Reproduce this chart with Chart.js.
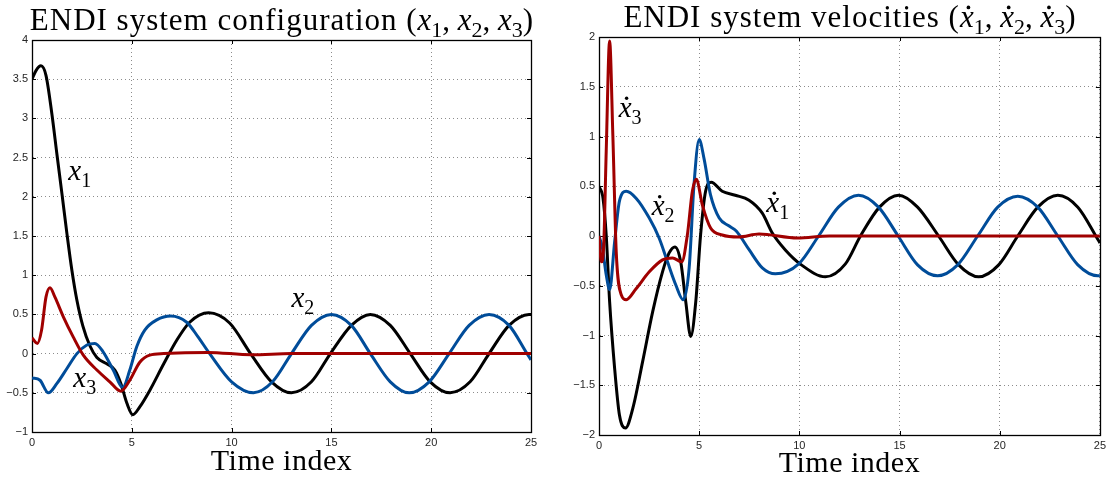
<!DOCTYPE html>
<html>
<head>
<meta charset="utf-8">
<script src="https://cdn.jsdelivr.net/npm/chart.js@4"></script>
<style>
  html, body { margin: 0; padding: 0; background: #fff; }
  #wrap { position: relative; width: 1110px; height: 481px; }
  .pane { position: absolute; top: 0; height: 481px; }
</style>
</head>
<body>
<div id="wrap">
  <div class="pane" style="left:0;width:560px"><canvas id="cfg" width="560" height="481"></canvas></div>
  <div class="pane" style="left:560px;width:550px"><canvas id="vel" width="550" height="481"></canvas></div>
</div>
<script>
// ticks
const xTicks = [0, 5, 10, 15, 20, 25];
const yTicksCfg = [-1, -0.5, 0, 0.5, 1, 1.5, 2, 2.5, 3, 3.5, 4];
const yTicksVel = [-2, -1.5, -1, -0.5, 0, 0.5, 1, 1.5, 2];

// configuration x1, x2, x3
const x1T = [0, 0.2, 0.45, 0.7, 1.0, 1.25, 1.5, 1.75, 2.0, 2.25, 2.55, 2.9, 3.25, 3.75, 4.15, 4.45, 4.75, 5.05, 5.4, 5.9, 6.6, 7.25, 7.9, 8.85, 9.9, 10.95, 12.0, 13.0, 14.0, 14.95, 16.0, 16.95, 17.95, 18.95, 19.95, 20.95, 21.95, 22.9, 23.9, 24.9, 25];
const x1V = [3.5, 3.61, 3.67, 3.55, 3.05, 2.54, 2.04, 1.53, 1.06, 0.68, 0.35, 0.1, -0.05, -0.13, -0.21, -0.38, -0.63, -0.78, -0.68, -0.47, -0.13, 0.17, 0.4, 0.52, 0.39, 0, -0.36, -0.5, -0.36, 0, 0.36, 0.5, 0.36, 0, -0.36, -0.5, -0.36, 0, 0.36, 0.5, 0.5];
const x2T = [0, 0.4, 0.82, 1.25, 1.75, 2.25, 2.75, 3.15, 3.57, 4.07, 4.55, 4.9, 5.25, 5.65, 6.25, 6.95, 7.75, 8.3, 8.9, 10.0, 11.1, 12.05, 13.0, 14.0, 15.0, 16.0, 16.95, 17.95, 18.9, 19.9, 20.9, 21.9, 22.9, 23.9, 24.8, 25];
const x2V = [-0.31, -0.34, -0.5, -0.38, -0.19, 0, 0.11, 0.13, 0.02, -0.21, -0.43, -0.21, 0.09, 0.3, 0.43, 0.48, 0.4, 0.22, 0, -0.36, -0.5, -0.36, 0, 0.36, 0.5, 0.36, 0, -0.36, -0.5, -0.36, 0, 0.36, 0.5, 0.36, 0, -0.08];
const x3T = [0, 0.27, 0.48, 0.7, 0.9, 1.15, 1.57, 2.07, 2.57, 3.25, 3.9, 4.45, 4.9, 5.4, 5.9, 6.6, 8.8, 11.0, 13.0, 25];
const x3V = [0.2, 0.13, 0.3, 0.72, 0.84, 0.72, 0.47, 0.21, -0.02, -0.21, -0.36, -0.48, -0.34, -0.11, -0.02, 0, 0.015, -0.015, 0, 0];

// velocities
const v1T = [0, 0.2, 0.36, 0.53, 0.78, 1.02, 1.32, 1.69, 2.18, 2.68, 3.17, 3.5, 3.79, 4.08, 4.33, 4.58, 4.83, 5.07, 5.32, 5.6, 6.15, 6.8, 7.49, 8.15, 8.65, 9.3, 10.1, 11.3, 12.3, 13.05, 14.0, 14.95, 15.9, 16.95, 17.95, 18.95, 19.95, 20.9, 21.9, 22.9, 23.9, 24.8, 25];
const v1V = [0.5, 0.38, 0.01, -0.66, -1.33, -1.8, -1.93, -1.73, -1.26, -0.76, -0.36, -0.17, -0.11, -0.26, -0.66, -1.01, -0.66, 0.01, 0.45, 0.54, 0.45, 0.41, 0.36, 0.23, 0.03, -0.14, -0.29, -0.41, -0.28, 0, 0.29, 0.41, 0.29, 0, -0.29, -0.41, -0.29, 0, 0.29, 0.41, 0.29, 0, -0.07];
const v2T = [0, 0.17, 0.36, 0.53, 0.78, 1.02, 1.36, 1.85, 2.51, 3.0, 3.42, 3.83, 4.2, 4.5, 4.74, 5.0, 5.24, 5.57, 6.0, 6.5, 6.85, 7.5, 8.15, 8.8, 9.97, 10.96, 11.95, 12.95, 13.95, 14.93, 15.9, 16.9, 17.9, 18.9, 19.9, 20.9, 21.9, 22.9, 23.9, 24.9, 25];
const v2V = [0, -0.12, -0.39, -0.54, -0.06, 0.35, 0.45, 0.38, 0.18, -0.02, -0.26, -0.49, -0.64, -0.32, 0.51, 0.97, 0.78, 0.41, 0.18, 0.1, 0.05, -0.14, -0.32, -0.38, -0.28, 0, 0.29, 0.41, 0.29, 0, -0.29, -0.4, -0.29, 0, 0.29, 0.4, 0.29, 0, -0.29, -0.4, -0.4];
const v3T = [0, 0.12, 0.23, 0.36, 0.53, 0.69, 0.86, 1.11, 1.36, 1.85, 2.51, 3.17, 3.67, 4.13, 4.41, 4.66, 4.86, 5.16, 5.57, 6.15, 6.98, 7.99, 9.9, 11.5, 25];
const v3V = [0, -0.26, -0.12, 0.85, 1.96, 1.02, -0.16, -0.59, -0.64, -0.53, -0.36, -0.24, -0.22, -0.26, 0.01, 0.45, 0.57, 0.31, 0.08, 0.01, -0.01, 0.02, -0.02, 0, 0];

const BLACK = '#000000', BLUE = '#004c99', RED = '#a00000';
const SERIF = '"Liberation Serif", "DejaVu Serif", serif';
const SANS = '"Liberation Sans", Arial, sans-serif';

const fmt = (v) => String(v).replace('-', '\u2212');

// rich text: italic x with subscript (and optional dot)
function mathVar(sub, size, dot) {
  return [
    { s: 'x', font: `italic ${size}px ${SERIF}`, dot, size },
    { s: sub, font: `${Math.round(size * 0.7)}px ${SERIF}`, dy: Math.round(size * 0.23) },
  ];
}
function plain(s, size, ls) {
  return { s, font: `${size}px ${SERIF}`, ls };
}
function drawRich(ctx, runs, x, y, align) {
  let w = 0;
  runs.forEach((r) => {
    ctx.font = r.font;
    ctx.letterSpacing = r.ls || '0px';
    r.w = ctx.measureText(r.s).width;
    w += r.w;
  });
  let cx = align === 'center' ? x - w / 2 : x;
  ctx.fillStyle = '#000';
  ctx.textBaseline = 'alphabetic';
  ctx.textAlign = 'left';
  runs.forEach((r) => {
    ctx.font = r.font;
    ctx.letterSpacing = r.ls || '0px';
    ctx.fillText(r.s, cx, y + (r.dy || 0));
    if (r.dot) {
      ctx.beginPath();
      ctx.arc(cx + r.w * 0.62, y - r.size * 0.63, r.size * 0.06, 0, Math.PI * 2);
      ctx.fill();
    }
    cx += r.w;
  });
  ctx.letterSpacing = '0px';
}

// box + inward tick marks
const boxPlugin = {
  id: 'box',
  beforeDatasetsDraw(chart) {
    const { ctx, chartArea: a, scales } = chart;
    ctx.save();
    ctx.strokeStyle = '#000';
    ctx.lineWidth = 1;
    ctx.beginPath();
    scales.x.ticks.forEach((t) => {
      const p = Math.round(scales.x.getPixelForValue(t.value)) + 0.5;
      ctx.moveTo(p, a.bottom); ctx.lineTo(p, a.bottom - 4);
      ctx.moveTo(p, a.top); ctx.lineTo(p, a.top + 4);
    });
    scales.y.ticks.forEach((t) => {
      const p = Math.round(scales.y.getPixelForValue(t.value)) + 0.5;
      ctx.moveTo(a.left, p); ctx.lineTo(a.left + 4, p);
      ctx.moveTo(a.right, p); ctx.lineTo(a.right - 4, p);
    });
    ctx.stroke();
    ctx.lineWidth = 1.3;
    ctx.strokeRect(Math.round(a.left) + 0.5, Math.round(a.top) + 0.5, Math.round(a.right - a.left), Math.round(a.bottom - a.top));
    ctx.restore();
  },
};

function textPlugin(cfg) {
  return {
    id: 'texts',
    afterDraw(chart) {
      const { ctx, chartArea: a, scales } = chart;
      const mid = (a.left + a.right) / 2;
      ctx.save();
      drawRich(ctx, cfg.title, mid, cfg.titleY, 'center');
      drawRich(ctx, [plain('Time index', 30, '0.5px')], mid, cfg.xlabelY, 'center');
      cfg.notes.forEach((n) => {
        drawRich(ctx, mathVar(n.sub, 29, n.dot), scales.x.getPixelForValue(n.t), scales.y.getPixelForValue(n.v), 'left');
      });
      ctx.restore();
    },
  };
}

function line(t, v, color) {
  return {
    data: t.map((x, i) => ({ x, y: v[i] })),
    borderColor: color,
    borderWidth: 3,
    pointRadius: 0,
    fill: false,
    cubicInterpolationMode: 'monotone',
  };
}

function axis(ticks, min, max, fit) {
  return {
    type: 'linear',
    min, max,
    afterBuildTicks: (s) => { s.ticks = ticks.map((value) => ({ value })); },
    afterFit: fit,
    grid: { color: '#8c8c8c', lineWidth: 1, drawTicks: false },
    border: { display: true, color: '#000', width: 1, dash: [1, 3] },
    ticks: { font: { family: SANS, size: 11 }, color: '#262626', padding: 4, maxRotation: 0, autoSkip: false, callback: (v) => fmt(v) },
  };
}

function makeChart(id, datasets, yTicks, yMin, yMax, yWidth, padding, texts) {
  return new Chart(document.getElementById(id), {
    type: 'line',
    data: { datasets },
    options: {
      responsive: false,
      animation: false,
      events: [],
      layout: { padding },
      plugins: { legend: { display: false }, tooltip: { enabled: false } },
      scales: {
        x: axis(xTicks, 0, 25, (s) => { s.height = 20; }),
        y: axis(yTicks, yMin, yMax, (s) => { s.width = yWidth; }),
      },
    },
    plugins: [boxPlugin, textPlugin(texts)],
  });
}

makeChart('cfg',
  [line(x3T, x3V, RED), line(x2T, x2V, BLUE), line(x1T, x1V, BLACK)],
  yTicksCfg, -1, 4, 32, { left: 0, top: 40, right: 29, bottom: 29 },
  {
    title: [plain('ENDI system configuration (', 31, '1px'), ...mathVar('1', 31), plain(', ', 31), ...mathVar('2', 31), plain(', ', 31), ...mathVar('3', 31), plain(')', 31)],
    titleY: 30,
    xlabelY: 470,
    notes: [
      { sub: '1', t: 1.82, v: 2.22 },
      { sub: '2', t: 13.0, v: 0.6 },
      { sub: '3', t: 2.07, v: -0.42 },
    ],
  });

makeChart('vel',
  [line(v3T, v3V, RED), line(v2T, v2V, BLUE), line(v1T, v1V, BLACK)],
  yTicksVel, -2, 2, 39, { left: 0, top: 37, right: 7, bottom: 26 },
  {
    title: [plain('ENDI system velocities (', 31, '1px'), ...mathVar('1', 31, true), plain(', ', 31), ...mathVar('2', 31, true), plain(', ', 31), ...mathVar('3', 31, true), plain(')', 31)],
    titleY: 27,
    xlabelY: 472,
    notes: [
      { sub: '3', t: 0.98, v: 1.2, dot: true },
      { sub: '2', t: 2.63, v: 0.21, dot: true },
      { sub: '1', t: 8.35, v: 0.245, dot: true },
    ],
  });
</script>
</body>
</html>
